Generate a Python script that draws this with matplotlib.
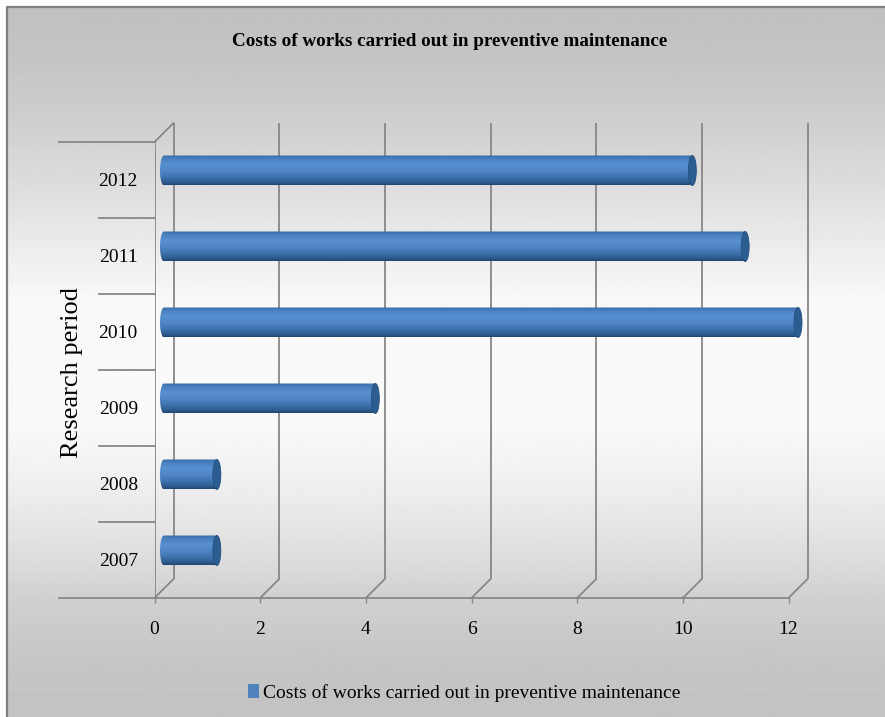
#!/usr/bin/env python3
"""
Preventive maintenance cost chart (Excel style 3D cylinder bars)
"""

import numpy as np
import matplotlib
matplotlib.use('Agg')  # no display
import matplotlib.pyplot as plt
from matplotlib import transforms
from matplotlib.patches import Ellipse, Patch, PathPatch
from matplotlib.path import Path

# chart data
years = ['2007', '2008', '2009', '2010', '2011', '2012']
costs = [1, 1, 4, 12, 11, 10]
x_ticks = [0, 2, 4, 6, 8, 10, 12]

title = 'Costs of works carried out in preventive maintenance'
series_name = 'Costs of works carried out in preventive maintenance'
y_label = 'Research period'

W, H = 885, 717
DEPTH = 19          # 3D depth of the back wall, pixels
GRID = '#878787'
CAP = '#2c5d91'

# cylinder shading (top -> bottom)
shade_t = [0.0, 0.12, 0.32, 0.55, 0.78, 0.92, 1.0]
shade_c = ['#386aa2', '#4a80c0', '#5990d1', '#4f85c4', '#3a6da7', '#2a5889', '#1f4571']


def hex_rgb(c):
    c = c.lstrip('#')
    return np.array([int(c[i:i + 2], 16) / 255 for i in (0, 2, 4)])


def shade_image(n=60):
    cols = np.array([hex_rgb(c) for c in shade_c])
    t = (np.arange(n) + 0.5) / n
    img = np.stack([np.interp(t, shade_t, cols[:, j]) for j in range(3)], axis=-1)
    return img[:, None, :]


def px_shift(fig, dx, dy):
    return transforms.ScaledTranslation(dx / fig.dpi, dy / fig.dpi, fig.dpi_scale_trans)


def bar_outline(y, v, h, a, m=24):
    """left end rounded (half ellipse), right end flat (cap drawn on top)"""
    th = np.linspace(np.pi / 2, 3 * np.pi / 2, m)
    pts = [(a * np.cos(t), y + h / 2 * np.sin(t)) for t in th]
    pts += [(v, y - h / 2), (v, y + h / 2), pts[0]]
    codes = [Path.MOVETO] + [Path.LINETO] * (len(pts) - 2) + [Path.CLOSEPOLY]
    return Path(pts, codes)


def main():
    plt.rcParams['font.family'] = ['Liberation Serif', 'DejaVu Serif']
    fig = plt.figure(figsize=(W / 100, H / 100), dpi=100, facecolor='white')

    # 背景漸層 + 外框
    bg = fig.add_axes([0, 0, 1, 1], zorder=-10)
    stops_y = [7, 60, 120, 200, 300, 420, 480, 540, 600, 660, 717]
    stops_v = [0.75, 0.77, 0.81, 0.88, 0.975, 0.98, 0.94, 0.886, 0.815, 0.775, 0.765]
    yy = np.arange(7, H + 1)
    gray = np.interp(yy, stops_y, stops_v)
    bg.imshow(np.repeat(gray[:, None], 2, axis=1), cmap='gray', vmin=0, vmax=1,
              extent=[7, W, H, 7], aspect='auto', interpolation='bilinear')
    bg.plot([7, 7, W], [H, 7, 7], color='#7f7f7f', lw=1.6)
    bg.set_xlim(0, W)
    bg.set_ylim(H, 0)
    bg.axis('off')

    # plot area (front plane)
    ax = fig.add_axes([154.5 / W, (H - 598) / H, 634 / W, 456 / H])
    ax.patch.set_alpha(0)
    for sp in ax.spines.values():
        sp.set_visible(False)

    back = ax.transData + px_shift(fig, DEPTH, DEPTH)
    mid = ax.transData + px_shift(fig, DEPTH / 2, DEPTH / 2)
    n_cat = len(years)
    lo, hi = -0.5, n_cat - 0.5

    # back wall gridlines and floor diagonals
    ax.vlines(x_ticks, lo, hi, transform=back, colors=GRID, lw=1.3, clip_on=False)
    for t in x_ticks:
        ax.annotate('', xy=(t, lo), xytext=(DEPTH, DEPTH), textcoords='offset pixels',
                    arrowprops=dict(arrowstyle='-', color=GRID, lw=1.3, shrinkA=0, shrinkB=0),
                    annotation_clip=False)
    ax.annotate('', xy=(0, hi), xytext=(DEPTH, DEPTH), textcoords='offset pixels',
                arrowprops=dict(arrowstyle='-', color=GRID, lw=1.3, shrinkA=0, shrinkB=0),
                annotation_clip=False)

    # front axis lines and category separators
    ax.axvline(0, color=GRID, lw=1.3)
    ax.axhline(lo, xmin=-96 / 634, xmax=1, color=GRID, lw=1.3, clip_on=False)
    ax.axhline(hi, xmin=-96 / 634, xmax=0, color=GRID, lw=1.3, clip_on=False)
    for b in np.arange(lo + 1, hi):
        ax.axhline(b, xmin=-56 / 634, xmax=0, color=GRID, lw=1.3, clip_on=False)

    # cylinder bars: gradient image clipped to the bar outline, plus end cap
    h = 30 / 76
    a = 4 / (634 / 12)
    grad = shade_image()
    for i, v in enumerate(costs):
        outline = PathPatch(bar_outline(i, v, h, a), transform=mid,
                            facecolor='none', edgecolor='none')
        ax.add_patch(outline)
        im = ax.imshow(grad, extent=[-a, v, i - h / 2, i + h / 2], transform=mid,
                       aspect='auto', interpolation='bilinear', zorder=2)
        im.set_clip_path(outline)
        im.set_clip_box(fig.bbox)
        ax.add_patch(Ellipse((v, i), 2 * a, h, transform=mid, facecolor=CAP,
                             edgecolor='#24507f', lw=0.6, clip_on=False, zorder=3))

    ax.set_xlim(0, 12)
    ax.set_ylim(lo, hi)
    ax.set_aspect('auto')
    ax.set_xticks(x_ticks)
    ax.set_xticklabels([str(t) for t in x_ticks])
    ax.set_yticks(range(n_cat))
    ax.set_yticklabels(years)
    ax.tick_params(axis='x', length=3.6, width=1, color=GRID, pad=13, labelsize=14)
    ax.tick_params(axis='y', length=0, pad=12, labelsize=14)

    fig.text(450 / W, 1 - 42 / H, title, ha='center', va='center',
             fontsize=13.8, fontweight='bold')
    fig.text(72 / W, 1 - 373 / H, y_label, rotation=90, ha='center', va='center',
             fontsize=19)

    fig.legend(handles=[Patch(facecolor='#4f81bd', edgecolor='none')], labels=[series_name],
               loc='center', bbox_to_anchor=(464 / W, 1 - 693 / H), frameon=False,
               fontsize=14, handlelength=0.55, handleheight=0.7, handletextpad=0.2)

    fig.savefig('out.png', dpi=100)
    plt.close(fig)


if __name__ == "__main__":
    main()
